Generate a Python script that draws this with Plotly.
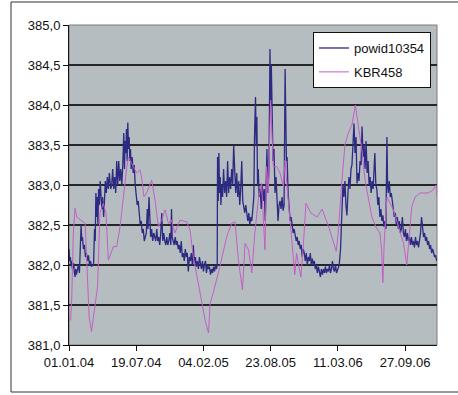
import pandas as pd
import plotly.graph_objects as go

# Observation days counted from 01.01.2004, with the measured values
powid_days = [
    0, 2, 4, 6, 8, 10, 12, 14, 16, 18, 20, 22, 24, 26, 28, 31, 34, 36, 38, 40,
    43, 46, 49, 52, 55, 58, 61, 64, 67, 70, 73, 76, 78, 80, 82, 84, 86, 88, 90, 93,
    96, 98, 100, 103, 105, 108, 111, 114, 117, 120, 124, 127, 130, 133, 136, 139, 142, 145, 148, 151,
    154, 157, 160, 163, 165, 167, 169, 171, 173, 175, 177, 179, 181, 183, 185, 188, 191, 194, 197, 200,
    203, 206, 209, 212, 215, 218, 221, 224, 227, 230, 233, 235, 238, 240, 243, 246, 249, 252, 255, 258,
    261, 264, 267, 270, 273, 276, 279, 282, 285, 288, 291, 294, 297, 300, 303, 305, 307, 310, 313, 316,
    319, 322, 325, 328, 331, 334, 337, 340, 343, 346, 349, 352, 355, 358, 361, 364, 367, 370, 373, 376,
    379, 382, 385, 388, 391, 394, 397, 400, 403, 406, 409, 412, 415, 418, 421, 424, 427, 430, 433, 436,
    439, 441, 442, 444, 446, 448, 450, 452, 454, 457, 460, 463, 466, 469, 472, 475, 478, 481, 484, 487,
    490, 493, 496, 499, 502, 505, 508, 511, 514, 517, 520, 523, 526, 529, 532, 535, 538, 541, 544, 547,
    550, 552, 555, 557, 559, 561, 563, 566, 569, 572, 575, 578, 581, 584, 586, 589, 592, 595, 598, 600,
    602, 604, 607, 610, 613, 616, 619, 622, 625, 628, 631, 634, 637, 640, 643, 645, 647, 649, 652, 655,
    658, 661, 664, 667, 670, 673, 676, 679, 682, 685, 688, 691, 694, 697, 700, 703, 706, 709, 712, 715,
    718, 721, 724, 727, 730, 733, 736, 739, 742, 745, 748, 751, 754, 757, 760, 763, 766, 769, 772, 775,
    778, 781, 784, 787, 790, 793, 796, 800, 804, 808, 812, 815, 818, 821, 824, 827, 830, 833, 836, 839,
    842, 845, 848, 851, 854, 857, 860, 863, 866, 869, 872, 875, 878, 881, 884, 887, 890, 893, 896, 899,
    902, 905, 908, 910, 913, 916, 919, 922, 925, 928, 931, 934, 937, 940, 943, 946, 948, 950, 953, 956,
    959, 962, 965, 968, 971, 974, 977, 980, 983, 986, 989, 992, 995, 998, 1001, 1004, 1007, 1010, 1013, 1016,
    1019, 1022, 1025, 1028, 1031, 1034, 1037, 1040, 1043, 1046, 1049, 1052, 1055, 1058, 1061, 1064, 1067, 1070, 1073, 1076,
    1079, 1082, 1085, 1088, 1091, 1094,
]
powid_values = [
    382.2, 382.05, 382.1, 382.0, 382.05, 381.95, 382.0, 382.02, 381.9, 381.85, 381.95, 381.88, 381.92, 382.0, 382.0, 381.9, 382.45, 382.5, 382.3, 382.35,
    382.2, 382.25, 382.1, 382.15, 382.05, 382.12, 382.0, 382.05, 381.98, 382.0, 382.0, 382.45, 382.3, 382.9, 382.6, 382.85, 382.5, 382.95, 382.75, 383.05,
    382.8, 382.7, 382.85, 382.6, 382.75, 383.05, 382.9, 383.1, 382.95, 383.15, 382.95, 383.0, 383.2, 382.95, 383.1, 382.9, 383.3, 383.0, 383.3, 383.05,
    383.2, 383.0, 383.25, 383.65, 383.2, 383.55, 383.4, 383.7, 383.3, 383.78, 383.45, 383.6, 383.3, 383.45, 383.2, 383.35, 383.15, 383.25, 383.0, 382.9,
    382.75, 382.8, 382.6, 382.5, 382.55, 382.4, 382.45, 382.3, 382.35, 382.4, 382.7, 382.45, 382.85, 382.5, 382.35, 382.45, 382.3, 382.4, 382.35, 382.3,
    382.45, 382.3, 382.35, 382.25, 382.4, 382.65, 382.3, 382.4, 382.3, 382.25, 382.35, 382.25, 382.3, 382.4, 382.25, 382.7, 382.35, 382.3, 382.25, 382.35,
    382.25, 382.3, 382.2, 382.25, 382.15, 382.3, 382.1, 382.15, 382.05, 382.2, 382.1, 382.15, 381.92, 382.1, 382.05, 382.15, 382.0, 382.25, 382.0, 382.1,
    381.98, 382.05, 381.95, 382.1, 382.0, 381.95, 382.05, 381.92, 382.0, 382.05, 381.9, 382.0, 381.95, 381.98, 381.88, 381.95, 381.9, 381.98, 381.92, 382.0,
    381.95, 382.0, 383.35, 382.8, 383.4, 382.9, 383.1, 382.75, 383.0, 382.85, 383.2, 382.9, 383.05, 382.85, 383.3, 382.9, 383.1, 382.95, 383.2, 383.0,
    383.5, 383.1, 382.9, 383.15, 382.85, 383.05, 382.75, 382.95, 383.3, 382.8, 382.7, 382.65, 382.75, 382.6, 382.55, 382.65, 382.5, 382.6, 382.55, 382.7,
    382.85, 383.6, 384.1, 383.5, 383.85, 383.0, 383.2, 382.85, 382.95, 382.7, 383.0, 382.8, 382.95, 382.55, 382.9, 383.45, 382.9, 383.2, 384.7, 384.0,
    384.5, 383.8, 383.3, 383.45, 382.9, 383.1, 382.75, 382.55, 382.75, 382.8, 382.7, 382.85, 382.68, 382.75, 384.45, 383.9, 383.3, 383.35, 382.9, 382.7,
    382.55, 382.6, 382.45, 382.4, 382.45, 382.35, 382.3, 382.35, 382.25, 382.3, 382.2, 382.25, 382.1, 382.2, 382.15, 382.05, 382.15, 382.0, 382.1, 382.05,
    382.15, 382.0, 382.08, 382.0, 382.05, 381.95, 382.0, 381.9, 381.98, 381.92, 381.85, 381.95, 381.88, 381.95, 381.9, 381.98, 381.9, 381.95, 381.92, 382.0,
    381.9, 381.95, 382.05, 381.95, 381.92, 382.0, 381.9, 381.95, 382.0, 382.2, 382.6, 383.0, 382.85, 383.05, 382.75, 382.62, 382.9, 383.1, 382.95, 383.2,
    383.25, 383.5, 383.77, 383.4, 383.6, 383.02, 383.15, 383.05, 383.3, 383.25, 383.73, 383.35, 383.5, 383.2, 383.55, 383.15, 383.3, 383.0, 383.1, 382.9,
    383.05, 382.95, 383.15, 383.4, 383.0, 382.95, 382.75, 382.85, 382.6, 382.7, 382.55, 382.62, 382.48, 382.55, 382.45, 383.6, 383.0, 382.9, 383.05, 382.85,
    382.9, 382.75, 382.7, 382.6, 382.65, 382.5, 382.6, 382.45, 382.55, 382.4, 382.45, 382.6, 382.4, 382.35, 382.45, 382.3, 382.4, 382.3, 382.35, 382.25,
    382.35, 382.25, 382.3, 382.22, 382.35, 382.25, 382.3, 382.22, 382.3, 382.4, 382.6, 382.45, 382.35, 382.4, 382.3, 382.35, 382.25, 382.3, 382.2, 382.25,
    382.15, 382.2, 382.15, 382.1, 382.12, 382.05,
]

kbr_days = [
    0, 5, 8, 13, 18, 23, 48, 55, 60, 67, 77, 85, 92, 102, 110, 117, 132, 142, 152, 162,
    172, 177, 186, 201, 211, 216, 223, 231, 246, 256, 266, 276, 286, 296, 305, 315, 330, 350, 360, 370,
    390, 405, 415, 420, 429, 449, 469, 484, 494, 504, 516, 524, 534, 544, 553, 563, 573, 583, 588, 593,
    600, 608, 618, 628, 638, 643, 648, 656, 663, 672, 677, 682, 690, 697, 705, 720, 738, 753, 775, 795,
    801, 811, 821, 831, 842, 852, 861, 871, 881, 891, 901, 915, 925, 930, 934, 938, 946, 965, 980, 995,
    1005, 1013, 1020, 1030, 1044, 1069, 1084, 1092, 1095,
]
kbr_values = [
    381.33, 381.31, 381.56, 382.4, 382.71, 382.6, 382.52, 381.9, 381.35, 381.17, 381.48, 381.73, 382.65, 382.77, 382.65, 382.06, 382.23, 382.23, 382.48, 382.9,
    383.23, 383.35, 383.27, 383.15, 383.19, 383.1, 382.85, 382.9, 383.06, 382.81, 382.48, 382.56, 382.69, 382.52, 382.56, 382.4, 382.56, 382.54, 382.44, 382.1,
    381.65, 381.31, 381.15, 381.52, 381.65, 381.98, 382.35, 382.52, 382.54, 382.06, 381.69, 382.27, 382.19, 381.9, 382.4, 382.81, 383.02, 382.19, 383.23, 382.9,
    384.06, 383.23, 383.23, 383.15, 382.98, 383.31, 383.02, 382.65, 382.4, 381.88, 382.15, 382.02, 381.85, 382.23, 382.77, 382.65, 382.6, 382.7, 382.45, 382.17,
    382.4, 383.0, 383.5, 383.65, 383.75, 384.0, 383.73, 383.45, 383.06, 382.81, 382.6, 382.46, 382.4, 382.2, 381.78, 382.3, 382.85, 382.69, 382.48, 382.28,
    382.0, 382.44, 382.73, 382.85, 382.9, 382.9, 382.94, 383.0, 382.85,
]

tick_dates = ["2004-01-01", "2004-07-19", "2005-02-04", "2005-08-23", "2006-03-11", "2006-09-27"]
tick_labels = ["01.01.04", "19.07.04", "04.02.05", "23.08.05", "11.03.06", "27.09.06"]

start = pd.Timestamp("2004-01-01")
powid_dates = start + pd.to_timedelta(powid_days, unit="D")
kbr_dates = start + pd.to_timedelta(kbr_days, unit="D")

font = dict(family="Liberation Sans, Arial, sans-serif", size=13, color="#111111")

fig = go.Figure()
fig.add_trace(go.Scatter(
    x=powid_dates, y=powid_values, mode="lines", name="powid10354",
    legendgroup="a", line=dict(color="#2c2a82", width=1.3),
))
fig.add_trace(go.Scatter(
    x=kbr_dates, y=kbr_values, mode="lines", name="KBR458",
    legendgroup="b", line=dict(color="#c35fc6", width=1),
))

fig.update_layout(
    width=458, height=395,
    margin=dict(l=69, r=21, t=25, b=50),
    paper_bgcolor="white",
    plot_bgcolor="#b5bdc1",
    separators=", ",
    font=font,
    showlegend=True,
    legend=dict(
        x=0.663, y=0.978, xanchor="left", yanchor="top",
        bgcolor="white", bordercolor="#111111", borderwidth=1,
        font=font, traceorder="grouped", tracegroupgap=4,
    ),
    xaxis=dict(
        type="date",
        range=["2004-01-01", "2006-12-31"],
        tickvals=tick_dates, ticktext=tick_labels,
        showgrid=False, zeroline=False,
        showline=True, linecolor="#111111", linewidth=1,
        ticks="outside", ticklen=5, tickcolor="#111111",
    ),
    yaxis=dict(
        range=[381, 385], dtick=0.5, tick0=381, tickformat=".1f",
        showgrid=True, gridcolor="#262626", gridwidth=1.5,
        zeroline=False,
        showline=True, linecolor="#111111", linewidth=1,
        ticks="outside", ticklen=5, tickcolor="#111111",
    ),
    shapes=[
        # plot-area frame
        dict(type="rect", xref="paper", yref="paper", x0=0, x1=1, y0=0, y1=1,
             line=dict(color="#7a7a7a", width=1), layer="below"),
        # outer chart border
        dict(type="rect", xref="paper", yref="paper",
             x0=-0.1576, x1=1.09, y0=-0.1469, y1=1.0719,
             line=dict(color="#333333", width=1)),
    ],
)

fig.write_html("out.html")
